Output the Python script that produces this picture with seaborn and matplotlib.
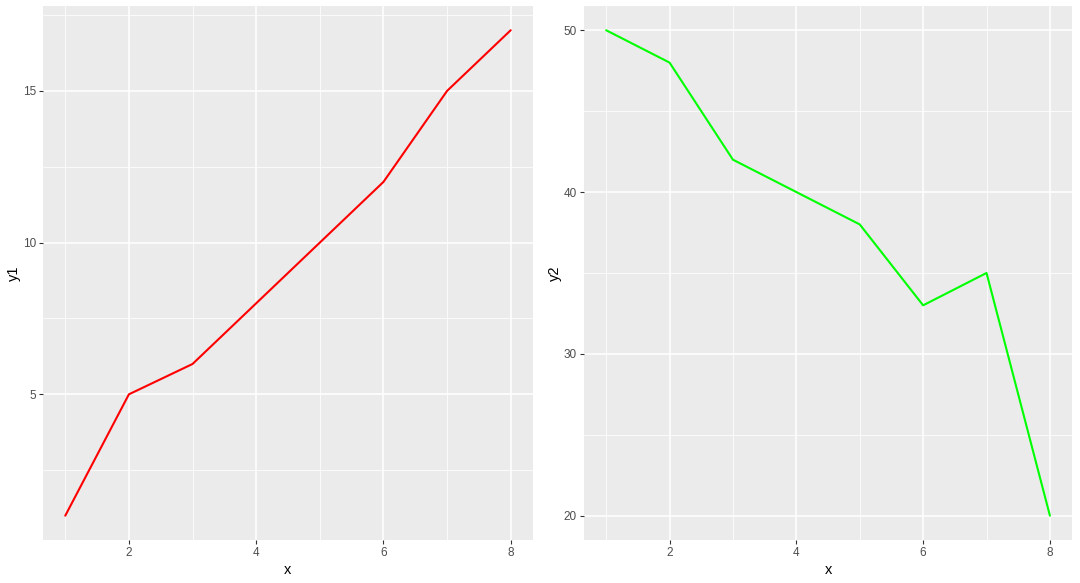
import numpy as np
import pandas as pd
import matplotlib
matplotlib.use('Agg')
import matplotlib.pyplot as plt
from matplotlib.ticker import MultipleLocator
import seaborn as sns

x = [1, 2, 3, 4, 5, 6, 7, 8]
y1 = [1, 5, 6, 8, 10, 12, 15, 17]
y2 = [50, 48, 42, 40, 38, 33, 35, 20]

df = pd.DataFrame({'x': x, 'y1': y1, 'y2': y2})

sns.set_theme(style='darkgrid', rc={'axes.facecolor': '#EBEBEB',
                                    'grid.color': 'white',
                                    'axes.edgecolor': 'white'})
plt.rcParams['font.family'] = ['Liberation Sans', 'DejaVu Sans']

fig = plt.figure(figsize=(10.8, 5.83), dpi=100)
ax1 = fig.add_axes([0.0398, 0.0738, 0.4537, 0.916])
ax2 = fig.add_axes([0.5407, 0.0738, 0.452, 0.916])

def style(ax, col, c, ymaj, ymin):
    sns.lineplot(data=df, x='x', y=col, color=c, lw=1.5, ax=ax)
    lo, hi = min(df[col]), max(df[col])
    pad = (hi - lo) * 0.05
    ax.set_ylim(lo - pad, hi + pad)
    ax.set_xlim(1 - 0.35, 8 + 0.35)
    ax.xaxis.set_major_locator(MultipleLocator(2))
    ax.xaxis.set_minor_locator(MultipleLocator(1))
    ax.yaxis.set_major_locator(MultipleLocator(ymaj))
    ax.yaxis.set_minor_locator(MultipleLocator(ymin))
    ax.grid(which='major', color='white', lw=1.1)
    ax.grid(which='minor', color='white', lw=0.55)
    for s in ax.spines.values():
        s.set_visible(False)
    ax.tick_params(which='major', length=3, width=0.8, color='#333333',
                   labelsize=8.5, labelcolor='#4D4D4D', pad=2,
                   bottom=True, left=True)
    ax.tick_params(which='minor', length=0)
    ax.set_xlabel('x', fontsize=10.5, color='black', labelpad=3)
    ax.set_ylabel(col, fontsize=10.5, color='black', labelpad=1)

style(ax1, 'y1', '#FF0000', 5, 2.5)
style(ax2, 'y2', '#00FF00', 10, 5)

fig.savefig('out.png', dpi=100, facecolor='white')
